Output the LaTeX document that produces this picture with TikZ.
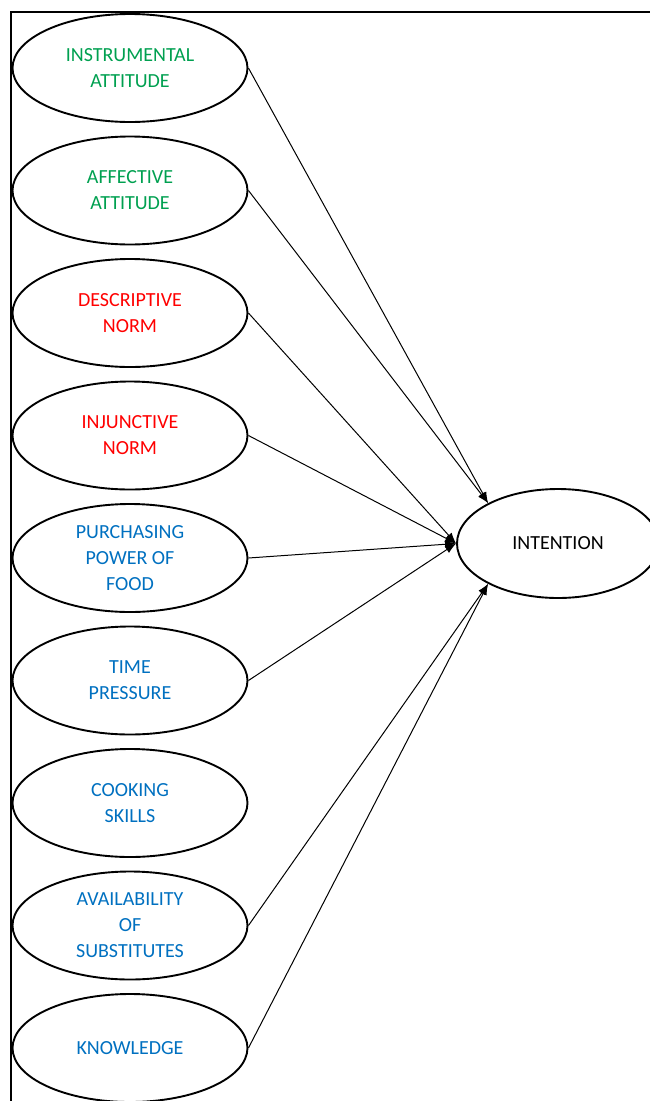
\documentclass[tikz,border=0pt]{standalone}
\usepackage{fontspec}
\setmainfont{Carlito}
\usetikzlibrary{arrows.meta,shapes.geometric}
\definecolor{attgreen}{RGB}{0,160,80}
\definecolor{normred}{RGB}{255,0,0}
\definecolor{ctrlblue}{RGB}{0,112,192}

\begin{document}
\begin{tikzpicture}[x=1pt,y=-1pt,
    factor/.style={ellipse,draw,line width=1.9pt,minimum width=235pt,minimum height=108pt,
                   inner sep=-8pt,align=center,font=\fontsize{20}{26}\selectfont},
    link/.style={-{Latex[length=11pt,width=8pt]},line width=1pt}]
   \useasboundingbox (0,0) rectangle (649,1101);
   % frame
   \draw[line width=2pt] (10,12) -- (655,12);
   \draw[line width=2pt] (11,12) -- (11,1105);
   % factors
   \node[factor,text=attgreen] (instr)  at (130,  68.0) {INSTRUMENTAL\\ATTITUDE};
   \node[factor,text=attgreen] (affect) at (130, 190.5) {AFFECTIVE\\ATTITUDE};
   \node[factor,text=normred]  (descr)  at (130, 313.0) {DESCRIPTIVE\\NORM};
   \node[factor,text=normred]  (injunc) at (130, 435.5) {INJUNCTIVE\\NORM};
   \node[factor,text=ctrlblue] (purch)  at (130, 558.0) {PURCHASING\\POWER OF\\FOOD};
   \node[factor,text=ctrlblue] (time)   at (130, 680.5) {TIME\\PRESSURE};
   \node[factor,text=ctrlblue] (cook)   at (130, 803.0) {COOKING\\SKILLS};
   \node[factor,text=ctrlblue] (avail)  at (130, 925.5) {AVAILABILITY\\OF\\SUBSTITUTES};
   \node[factor,text=ctrlblue] (know)   at (130,1048.0) {KNOWLEDGE};
   % outcome
   \node[factor,minimum width=202pt,minimum height=109pt] (intent) at (558,543.5) {INTENTION};
   % paths
   \draw[link] (instr.east)  -- (intent.150);
   \draw[link] (affect.east) -- (intent.150);
   \draw[link] (descr.east)  -- (intent.west);
   \draw[link] (injunc.east) -- (intent.west);
   \draw[link] (purch.east)  -- (intent.west);
   \draw[link] (time.east)   -- (intent.west);
   \draw[link] (avail.east)  -- (intent.210);
   \draw[link] (know.east)   -- (intent.210);
\end{tikzpicture}
\end{document}
